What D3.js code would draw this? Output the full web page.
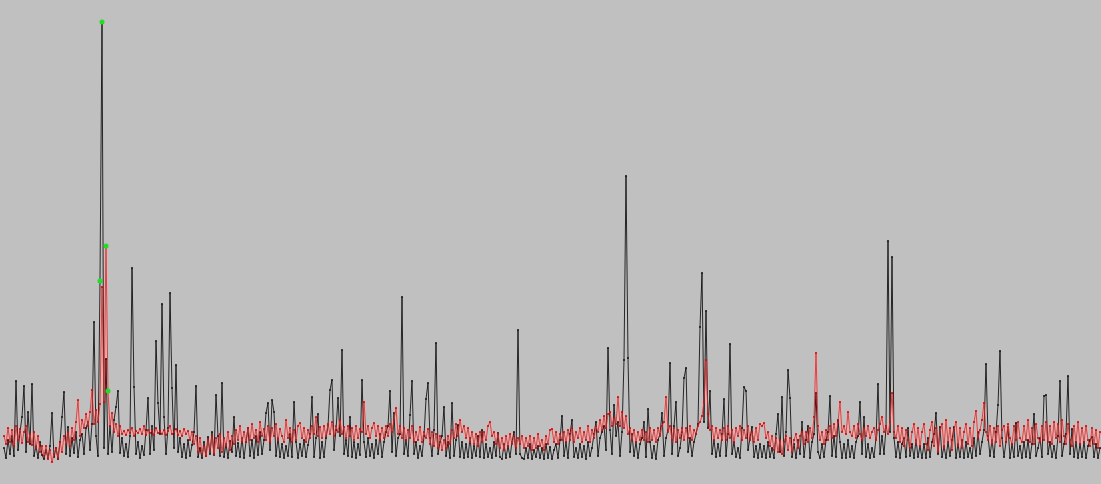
<!DOCTYPE html>
<html>
<head>
<meta charset="utf-8">
<script src="https://cdn.jsdelivr.net/npm/d3@7"></script>
<style>
  html, body { margin: 0; padding: 0; background: #c0c0c0; overflow: hidden; }
  svg { display: block; }
</style>
</head>
<body>
<svg id="chart" width="1101" height="484"></svg>
<script>
// Signal A (black trace), one sample per step
const blackSeries = [
  14, 4, 22, 8, 26, 6, 81, 12, 30, 45, 76, 10, 50, 18, 78, 6, 16, 4, 20, 7,
  3, 12, 4, 16, 49, 5, 14, 3, 20, 45, 70, 8, 35, 6, 24, 9, 30, 5, 22, 28,
  8, 34, 40, 12, 38, 140, 26, 6, 181, 440, 14, 103, 8, 36, 10, 42, 55, 71, 9, 24,
  6, 18, 5, 26, 194, 75, 8, 20, 4, 16, 7, 32, 64, 8, 36, 12, 121, 59, 28, 158,
  45, 8, 34, 169, 74, 14, 97, 10, 24, 5, 18, 4, 22, 6, 17, 30, 76, 5, 14, 4,
  20, 6, 25, 8, 30, 7, 67, 26, 6, 79, 5, 18, 4, 21, 10, 45, 6, 19, 5, 24,
  4, 20, 34, 6, 22, 4, 26, 7, 30, 8, 22, 49, 59, 12, 62, 50, 6, 24, 5, 18,
  4, 16, 6, 28, 5, 60, 20, 4, 18, 6, 22, 5, 17, 28, 65, 5, 24, 48, 4, 20,
  5, 24, 36, 72, 82, 12, 32, 64, 26, 112, 8, 22, 6, 45, 5, 20, 4, 18, 7, 82,
  20, 5, 24, 6, 18, 4, 22, 8, 28, 5, 20, 30, 36, 71, 10, 49, 6, 24, 28, 165,
  8, 22, 6, 47, 81, 8, 20, 4, 16, 6, 26, 63, 79, 24, 6, 32, 119, 8, 20, 26,
  55, 6, 20, 4, 59, 6, 22, 37, 5, 20, 4, 18, 5, 24, 4, 16, 6, 26, 5, 32,
  4, 18, 5, 14, 4, 20, 6, 29, 5, 3, 18, 4, 16, 5, 20, 30, 8, 132, 8, 4,
  3, 14, 4, 18, 3, 12, 5, 16, 4, 14, 3, 18, 4, 15, 3, 12, 18, 4, 22, 46,
  6, 20, 4, 28, 42, 5, 14, 4, 18, 5, 16, 3, 20, 6, 14, 28, 40, 6, 24, 30,
  36, 12, 114, 32, 8, 57, 26, 40, 6, 30, 102, 286, 104, 10, 28, 6, 20, 4, 18, 24,
  40, 5, 53, 20, 4, 16, 3, 22, 28, 49, 6, 24, 32, 99, 8, 36, 60, 6, 14, 30,
  84, 94, 10, 24, 6, 20, 28, 38, 135, 189, 40, 151, 34, 71, 8, 22, 5, 18, 6, 28,
  63, 6, 28, 118, 8, 20, 5, 14, 4, 34, 75, 71, 12, 24, 35, 5, 16, 4, 18, 5,
  16, 4, 20, 5, 14, 4, 28, 48, 10, 65, 6, 30, 92, 64, 5, 18, 4, 22, 8, 40,
  5, 22, 36, 4, 20, 28, 69, 10, 4, 18, 5, 22, 30, 66, 6, 26, 5, 42, 20, 4,
  18, 4, 22, 5, 16, 4, 20, 26, 60, 8, 45, 5, 18, 4, 14, 5, 24, 78, 8, 26,
  8, 34, 221, 30, 205, 24, 5, 20, 4, 18, 24, 5, 34, 6, 18, 4, 22, 5, 16, 4,
  18, 4, 24, 5, 20, 28, 49, 8, 35, 5, 16, 4, 20, 6, 22, 35, 4, 18, 5, 22,
  4, 20, 5, 14, 4, 24, 6, 30, 8, 20, 32, 98, 26, 6, 22, 5, 30, 57, 111, 24,
  5, 20, 35, 4, 18, 5, 39, 6, 16, 4, 20, 5, 22, 4, 18, 48, 6, 14, 24, 5,
  66, 67, 8, 20, 5, 16, 4, 26, 81, 6, 18, 28, 86, 8, 33, 5, 20, 4, 18, 5,
  20, 4, 16, 22, 25, 5, 18, 4, 14
];

// Signal B (red trace), same sampling
const redSeries = [
  26, 18, 34, 20, 32, 16, 36, 22, 33, 19, 30, 36, 20, 28, 17, 30, 14, 26, 10, 16,
  6, 16, 3, 12, 0, 8, 14, 4, 20, 10, 26, 18, 30, 16, 34, 22, 40, 62, 26, 42,
  34, 48, 36, 50, 72, 38, 52, 40, 58, 175, 60, 216, 71, 36, 49, 30, 38, 26, 36, 28,
  31, 27, 32, 29, 34, 26, 31, 29, 33, 28, 36, 27, 32, 29, 31, 27, 34, 29, 31, 28,
  32, 27, 31, 36, 28, 30, 33, 27, 31, 26, 33, 28, 31, 22, 30, 18, 26, 10, 24, 8,
  16, 6, 22, 12, 26, 8, 24, 14, 28, 10, 24, 16, 30, 12, 26, 18, 32, 22, 36, 20,
  30, 20, 34, 22, 38, 24, 32, 20, 40, 26, 33, 22, 36, 20, 34, 26, 38, 22, 33, 26,
  20, 42, 24, 34, 20, 32, 22, 36, 39, 24, 34, 20, 32, 24, 36, 28, 45, 26, 35, 24,
  36, 26, 38, 28, 40, 26, 36, 30, 42, 28, 35, 24, 36, 26, 34, 22, 36, 24, 33, 30,
  60, 28, 36, 24, 34, 39, 26, 36, 22, 34, 24, 36, 26, 38, 30, 42, 54, 28, 36, 24,
  34, 22, 32, 24, 36, 20, 30, 22, 35, 20, 30, 24, 33, 18, 30, 16, 28, 14, 26, 12,
  22, 14, 26, 18, 32, 24, 38, 26, 42, 30, 36, 24, 34, 20, 30, 18, 28, 16, 30, 20,
  30, 22, 36, 40, 26, 30, 18, 28, 14, 24, 12, 26, 16, 28, 18, 26, 14, 24, 18, 26,
  14, 24, 16, 26, 12, 24, 14, 28, 16, 22, 12, 26, 18, 32, 33, 20, 30, 18, 28, 22,
  30, 20, 32, 22, 34, 20, 30, 24, 34, 20, 30, 22, 36, 20, 32, 24, 36, 30, 42, 32,
  46, 34, 48, 50, 36, 44, 38, 65, 36, 50, 34, 46, 28, 34, 22, 32, 20, 30, 22, 32,
  22, 30, 20, 34, 22, 32, 20, 34, 26, 36, 40, 65, 30, 36, 22, 34, 20, 32, 24, 34,
  22, 34, 24, 36, 22, 32, 28, 36, 40, 46, 60, 102, 48, 32, 36, 22, 34, 24, 32, 22,
  34, 22, 36, 24, 32, 20, 34, 26, 36, 22, 32, 24, 36, 22, 30, 20, 34, 22, 38, 36,
  39, 24, 30, 16, 26, 12, 24, 10, 22, 8, 20, 26, 12, 24, 10, 22, 28, 14, 26, 30,
  18, 30, 20, 34, 24, 45, 109, 36, 22, 30, 18, 32, 22, 36, 24, 38, 26, 40, 60, 30,
  36, 28, 50, 30, 26, 36, 24, 38, 28, 22, 34, 26, 36, 24, 30, 34, 22, 32, 38, 45,
  30, 36, 28, 40, 69, 30, 24, 36, 20, 34, 16, 32, 22, 14, 30, 38, 18, 34, 16, 30,
  38, 18, 12, 32, 40, 16, 34, 10, 30, 38, 14, 42, 20, 34, 12, 32, 40, 16, 34, 14,
  30, 38, 18, 34, 16, 40, 51, 24, 32, 42, 59, 30, 22, 36, 18, 34, 20, 36, 16, 32,
  36, 20, 38, 24, 18, 36, 22, 40, 24, 20, 36, 22, 42, 20, 34, 18, 38, 24, 20, 36,
  22, 40, 20, 36, 18, 40, 24, 38, 20, 42, 26, 18, 38, 22, 16, 36, 20, 40, 18, 34,
  20, 36, 22, 16, 34, 18, 32, 14, 30
];

// Samples flagged with green markers
const blackHighlights = [48, 49];
const redHighlights = [51, 52];

const W = 1101, H = 484;
const svg = d3.select("#chart");

svg.append("rect")
  .attr("width", W).attr("height", H)
  .attr("fill", "#c0c0c0");

const x = d3.scaleLinear()
  .domain([0, blackSeries.length - 1])
  .range([4, 1100]);

const y = d3.scaleLinear()
  .domain([0, 440])
  .range([462, 22]);

const line = d3.line()
  .x((d, i) => x(i))
  .y(d => y(d));

function drawTrace(data, stroke, dot, opacity) {
  const g = svg.append("g");
  g.append("path")
    .datum(data)
    .attr("fill", "none")
    .attr("stroke", stroke)
    .attr("stroke-width", 1)
    .attr("stroke-opacity", opacity)
    .attr("d", line);
  g.selectAll("rect")
    .data(data)
    .join("rect")
    .attr("x", (d, i) => x(i) - 1)
    .attr("y", d => y(d) - 1)
    .attr("width", 2)
    .attr("height", 2)
    .attr("fill", dot)
    .attr("fill-opacity", opacity);
}

drawTrace(blackSeries, "#000000", "#1a1a1a", 0.8);
drawTrace(redSeries, "#ff1a1a", "#e00000", 0.8);

// Green markers on flagged samples
const marks = blackHighlights.map(i => [i, blackSeries[i]])
  .concat(redHighlights.map(i => [i, redSeries[i]]));

svg.append("g")
  .selectAll("circle")
  .data(marks)
  .join("circle")
  .attr("cx", d => x(d[0]))
  .attr("cy", d => y(d[1]))
  .attr("r", 2.5)
  .attr("fill", "#22dd22");
</script>
</body>
</html>
